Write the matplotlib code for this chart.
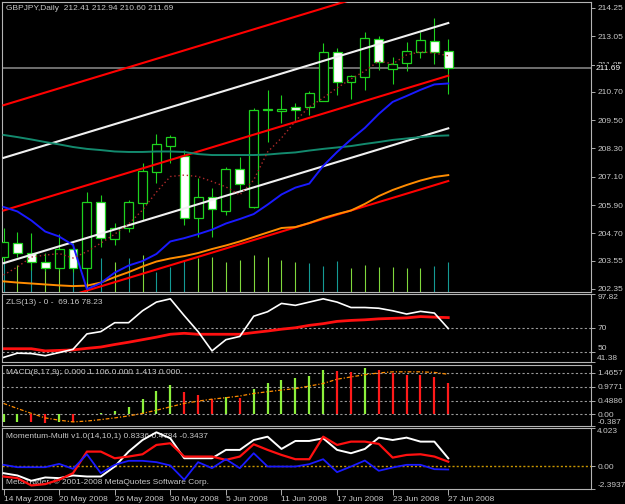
import matplotlib.pyplot as plt
import numpy as np
from matplotlib.patches import Rectangle
from matplotlib.transforms import blended_transform_factory

plt.rcParams['font.family'] = ['Liberation Sans', 'DejaVu Sans']
plt.rcParams['font.size'] = 6

W, H = 625, 504
FG = '#c8c8c8'

dates = ['14 May 2008', '20 May 2008', '26 May 2008', '30 May 2008', '5 Jun 2008',
         '11 Jun 2008', '17 Jun 2008', '23 Jun 2008', '27 Jun 2008']

opens = [203.70, 204.31, 203.88, 203.50, 203.25, 204.04, 203.25, 206.04, 204.45, 204.92, 205.97,
         207.31, 208.42, 207.99, 205.34, 206.25, 205.66, 207.42, 205.83, 209.91, 209.89, 210.04,
         210.04, 210.31, 212.37, 211.13, 211.34, 212.92, 211.65, 211.91, 212.40, 212.85, 212.41]
highs = [204.93, 204.77, 204.73, 203.87, 204.67, 204.29, 206.47, 206.33, 205.13, 206.11, 207.67,
         208.91, 208.87, 208.23, 207.05, 206.62, 207.53, 207.95, 210.01, 210.78, 210.56, 210.23,
         210.75, 212.75, 212.56, 211.41, 213.25, 213.06, 212.16, 212.80, 213.25, 213.81, 212.94]
lows = [203.49, 203.70, 203.15, 203.11, 203.15, 203.06, 202.64, 204.14, 204.21, 204.76, 205.27,
        206.82, 207.68, 205.06, 204.55, 204.55, 205.48, 206.54, 205.78, 208.59, 209.38, 209.43,
        209.72, 210.29, 210.56, 210.38, 210.78, 211.62, 211.03, 211.59, 212.12, 211.86, 210.60]
closes = [204.34, 203.89, 203.50, 203.25, 204.04, 203.25, 206.04, 204.49, 204.93, 206.01, 207.34,
          208.49, 208.78, 205.34, 206.25, 205.72, 207.42, 206.78, 209.93, 209.95, 209.96, 209.93,
          210.64, 212.37, 211.13, 211.37, 212.97, 211.95, 211.88, 212.43, 212.88, 212.37, 211.69]
volumes = [3000, 2700, 3400, 3000, 3200, 3400, 3700, 3400, 3000, 3400, 3700, 2030, 2530, 3200,
           3400, 3530, 3030, 3200, 3700, 3530, 3200, 3030, 2930, 2600, 3130, 2370, 2700, 2470,
           2470, 2370, 2430, 2600, 2970]
vol_up = [0, 1, 0, 1, 1, 0, 1, 0, 1, 0, 1, 0, 0, 0, 1, 1, 1, 1, 1, 1, 1, 1, 0, 0, 0, 1, 1, 1,
          1, 1, 1, 0, 0]

ma_blue = [205.82, 205.63, 205.25, 204.78, 204.57, 204.21, 202.34, 202.60, 203.04, 203.34, 203.53,
           203.83, 204.36, 204.50, 204.67, 204.86, 205.12, 205.31, 205.52, 205.92, 206.35, 206.64,
           206.81, 207.56, 208.15, 208.68, 209.17, 209.76, 210.27, 210.52, 210.78, 211.01, 211.05]
ma_orange = [202.67, 202.62, 202.58, 202.54, 202.50, 202.47, 202.49, 202.62, 202.85, 203.06, 203.30,
             203.51, 203.64, 203.74, 203.87, 204.04, 204.19, 204.36, 204.55, 204.74, 204.93, 204.97,
             205.14, 205.35, 205.52, 205.67, 205.95, 206.28, 206.54, 206.75, 206.94, 207.09, 207.17]
ma_teal = [208.87, 208.78, 208.68, 208.57, 208.47, 208.36, 208.28, 208.23, 208.17, 208.15, 208.15,
           208.17, 208.17, 208.15, 208.06, 208.02, 208.02, 208.02, 208.02, 208.04, 208.09, 208.13,
           208.21, 208.28, 208.34, 208.40, 208.49, 208.57, 208.66, 208.72, 208.78, 208.83, 208.85]
ma_dotted = [202.94, 203.28, 203.70, 203.78, 203.85, 203.66, 203.93, 204.29, 204.67, 205.10, 205.69,
             206.45, 207.11, 207.17, 207.11, 206.90, 206.67, 206.33, 206.96, 208.15, 208.74, 209.46,
             210.06, 210.44, 210.86, 211.24, 211.58, 212.00, 211.88, 212.26, 212.39, 212.34, 212.22]

channel_start, channel_end, channel_dev = 205.67, 211.38, 2.23

price_ticks = [214.25, 213.05, 211.85, 210.70, 209.50, 208.30, 207.10, 205.90, 204.70, 203.55, 202.35]
last_price = 211.69

zls_main = [45.2, 48.7, 48.4, 46.6, 49.2, 51.9, 64.7, 66.6, 74.0, 74.0, 83.9, 91.1, 93.8, 79.9,
            66.6, 50.6, 59.9, 62.6, 79.4, 83.1, 90.0, 88.4, 91.1, 93.8, 91.1, 86.6, 86.6, 86.0,
            83.9, 81.2, 83.4, 82.0, 69.16]
zls_signal = [52.4, 52.4, 52.4, 50.6, 51.0, 51.4, 52.7, 53.8, 55.9, 57.8, 59.9, 62.0, 64.4, 65.2,
              64.4, 64.4, 64.4, 64.4, 65.8, 67.1, 68.6, 69.8, 71.8, 73.2, 75.1, 75.9, 76.4, 77.2,
              77.6, 78.0, 79.1, 78.6, 78.23]

macd_hist = [-0.28, -0.26, -0.28, -0.31, -0.26, -0.28, 0.01, 0.04, 0.13, 0.27, 0.56, 0.83, 1.03,
             0.80, 0.68, 0.54, 0.62, 0.59, 0.89, 1.11, 1.23, 1.29, 1.35, 1.56, 1.52, 1.50, 1.64,
             1.56, 1.46, 1.40, 1.40, 1.32, 1.106]
macd_up = [1, 1, 0, 0, 1, 0, 1, 1, 1, 1, 1, 1, 1, 0, 0, 0, 1, 0, 1, 1, 1, 1, 1, 1, 0, 0, 1, 0,
           0, 0, 0, 0, 0]
macd_signal = [0.39, 0.21, 0.04, -0.12, -0.20, -0.26, -0.23, -0.18, -0.12, -0.05, 0.04, 0.15, 0.27,
               0.39, 0.47, 0.54, 0.59, 0.65, 0.74, 0.80, 0.86, 0.91, 1.00, 1.09, 1.24, 1.32, 1.40,
               1.46, 1.50, 1.50, 1.50, 1.48, 1.413]
macd_levels = [1.4657, 0.9771, 0.4886, 0.0]

mom_white = [-0.73, -0.97, -1.53, -1.18, -1.25, -0.97, -1.08, -1.08, -0.03, 1.54, 2.76, 3.57, 2.94,
             0.84, 0.84, 0.84, 1.72, 1.72, 2.76, 3.11, 1.82, 2.66, 2.66, 2.94, 1.72, 1.37, 1.82,
             3.01, 2.76, 3.01, 2.59, 2.59, 0.8336]
mom_red = [-1.08, -1.25, -2.02, -1.88, -1.42, -0.73, 1.54, 1.54, 0.84, 1.02, 1.26, 2.24, 2.42,
           1.02, 1.02, 1.02, 0.67, 1.02, 2.31, 1.72, 1.19, 0.74, 0.74, 3.11, 2.24, 2.59, 2.59,
           2.35, 0.91, 1.19, 1.26, 1.02, 0.4784]
mom_blue = [0.15, -0.10, -0.10, -0.10, 0.25, -0.27, 1.26, -0.73, 0.15, 0.57, 0.57, 0.43, 0.08,
            -1.42, 0.43, -0.20, 0.74, -0.20, 1.37, -0.03, -0.03, -0.03, 0.22, 0.74, -0.62, -0.03,
            0.60, -0.48, -0.13, 0.15, 0.15, -0.31, -0.3437]


def panel(fig, top, bottom, axis_on=True):
    ax = fig.add_axes([2 / W, 1 - bottom / H, 589 / W, (bottom - top) / H])
    ax.set_facecolor('none')
    ax.set_xlim(-0.11, 42.27)
    ax.set_xticks([])
    if not axis_on:
        ax.axis('off')
        return ax
    for s in ax.spines.values():
        s.set_color('#b4b4b4')
        s.set_linewidth(0.8)
    ax.yaxis.tick_right()
    ax.tick_params(axis='y', colors=FG, length=3, width=0.6, pad=1.5, labelsize=6)
    return ax


def header(ax, text, y):
    ax.annotate(text, (6, H - y), xycoords='figure pixels', color=FG, fontsize=6,
                va='center', zorder=1)


def draw_price(fig):
    bars = np.arange(len(opens))

    ax_vol = panel(fig, 2, 292, axis_on=False)
    ax_vol.set_ylim(0, 29000)
    cols = ['#80d83c' if u else '#149a94' for u in vol_up]
    ax_vol.vlines(bars, 0, volumes, colors=cols, lw=0.8)

    ax = panel(fig, 2, 292)
    ax.set_ylim(202.22, 214.50)
    ax.set_yticks(price_ticks)
    ax.set_yticklabels(['%.2f' % p for p in price_ticks])

    edge = '#1ed21e'
    for i in bars:
        o, c = opens[i], closes[i]
        ax.vlines(i, lows[i], highs[i], color=edge, lw=0.8, zorder=3)
        face = 'black' if c >= o else 'white'
        ax.add_patch(Rectangle((i - 0.32, min(o, c)), 0.64, max(abs(c - o), 0.03),
                               facecolor=face, edgecolor=edge, lw=0.9, zorder=4))

    ends = [0, len(opens) - 1]
    for k, col in [(2, '#ff0000'), (1, '#f0f0f0'), (0, '#ff0000'), (-1, '#f0f0f0'), (-2, '#ff0000')]:
        ax.plot(ends, [channel_start + k * channel_dev, channel_end + k * channel_dev],
                color=col, lw=1.5, zorder=5)

    ax.plot(bars, ma_teal, color='#138a6e', lw=1.4, zorder=5)
    ax.plot(bars, ma_orange, color='#ff8c00', lw=1.4, zorder=5)
    ax.plot(bars, ma_blue, color='#1a1aff', lw=1.4, zorder=6)
    ax.plot(bars, ma_dotted, color='#b02a2a', lw=1.0, ls=(0, (1, 2)), zorder=6)

    ax.axhline(last_price, color='#8c8c8c', lw=1.1, zorder=2)
    ax.annotate('%.2f' % last_price, xy=(1, last_price), xycoords=('axes fraction', 'data'),
                xytext=(3.6, 0), textcoords='offset points', va='center', color='white',
                fontsize=6, annotation_clip=False,
                bbox=dict(facecolor='black', edgecolor='none', pad=0.6))
    header(ax, 'GBPJPY,Daily  %.2f %.2f %.2f %.2f' % (opens[-1], highs[-1], lows[-1], closes[-1]), 9)


def draw_zls(fig):
    bars = np.arange(len(zls_main))
    ax = panel(fig, 294, 362)
    ax.set_ylim(41.38, 97.82)
    for lv in [70, 50]:
        ax.axhline(lv, color='#9a9a9a', lw=0.8, ls=(0, (2, 2)))
    ax.plot(bars, zls_signal, color='#ff1010', lw=2.0)
    ax.plot(bars, zls_main, color='white', lw=1.2)
    ax.set_yticks([97.82, 70, 50, 41.38])
    ax.set_yticklabels(['97.82', '70', '50', '41.38'])
    labels = ax.get_yticklabels()
    labels[0].set_va('top')
    labels[2].set_va('bottom')
    labels[3].set_va('bottom')
    header(ax, 'ZLS(13) - 0 -  %.2f %.2f' % (zls_main[-1], zls_signal[-1]), 302)


def draw_macd(fig):
    bars = np.arange(len(macd_hist))
    ax = panel(fig, 365, 425.5)
    ax.set_ylim(-0.387, 1.74)
    for lv in macd_levels:
        ax.axhline(lv, color='#9a9a9a', lw=0.8, ls=(0, (2, 2)))
    cols = ['#8cf03c' if u else '#ff1a1a' for u in macd_up]
    ax.vlines(bars, 0, macd_hist, colors=cols, lw=1.6)
    ax.plot(bars, macd_signal, color='#ff8c00', lw=0.9, ls=(0, (3, 1.5, 1, 1.5)))
    ax.set_yticks(macd_levels + [-0.387])
    ax.set_yticklabels(['1.4657', '0.9771', '0.4886', '0.00', '-0.387'])
    ax.get_yticklabels()[-1].set_va('bottom')
    header(ax, 'MACD(8,17,9); 0.000 %.3f 0.000 %.3f 0.000' % (macd_hist[-1], macd_signal[-1]), 373)


def draw_momentum(fig):
    bars = np.arange(len(mom_white))
    ax = panel(fig, 428, 489)
    ax.set_ylim(-2.3937, 4.023)
    ax.axhline(0, color='#c89600', lw=1.0, ls=(0, (1.5, 1.5)))
    ax.plot(bars, mom_white, color='white', lw=1.4, zorder=3)
    ax.plot(bars, mom_red, color='#ff1010', lw=1.6, zorder=3)
    ax.plot(bars, mom_blue, color='#1a1aff', lw=1.3, zorder=3)
    ax.set_yticks([4.023, 0, -2.3937])
    ax.set_yticklabels(['4.023', '0.00', '-2.3937'])
    labels = ax.get_yticklabels()
    labels[0].set_va('top')
    labels[2].set_va('bottom')
    ax.set_xticks(range(0, len(bars), 4))
    ax.set_xticklabels(dates, ha='left')
    ax.tick_params(axis='x', colors=FG, length=4, width=0.6, pad=1, labelsize=6)
    header(ax, 'Momentum-Multi v1.0(14,10,1) %.4f %.4f %.4f' % (mom_white[-1], mom_red[-1], mom_blue[-1]), 437)
    header(ax, 'MetaTrader, \u00a9 2001-2008 MetaQuotes Software Corp.', 482)


if __name__ == '__main__':
    fig = plt.figure(figsize=(W / 100, H / 100), dpi=100, facecolor='black')
    draw_price(fig)
    draw_zls(fig)
    draw_macd(fig)
    draw_momentum(fig)
    fig.savefig('out.png', dpi=100, facecolor='black')
